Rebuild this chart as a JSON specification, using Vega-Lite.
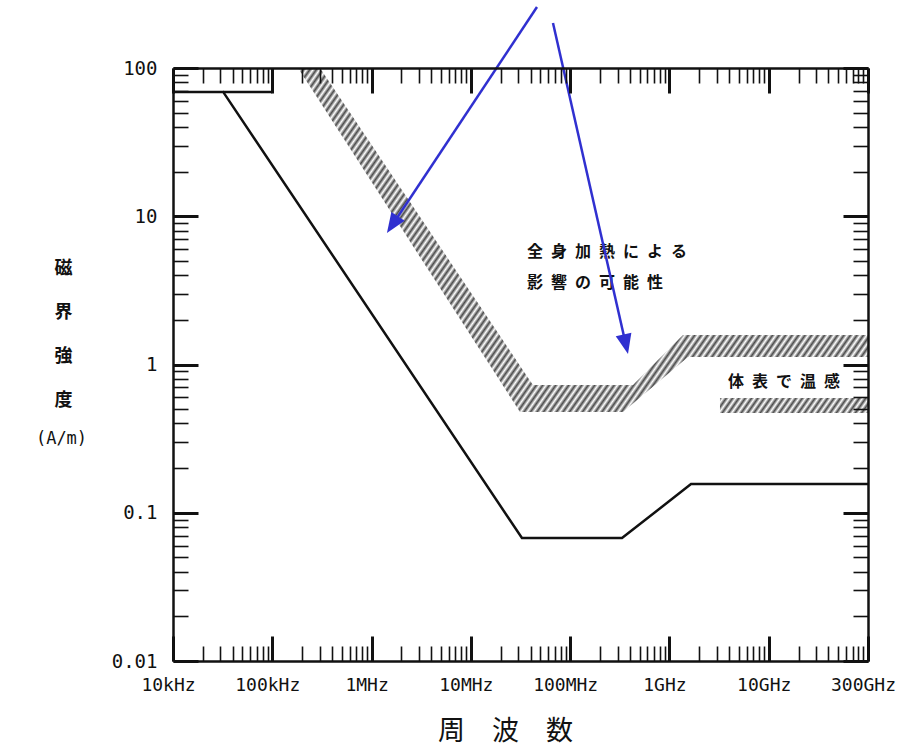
{
"$schema": "https://vega.github.io/schema/vega-lite/v6.json",
"width": 695, "height": 593,
"autosize": {"type": "none"},
"padding": {"left": 173, "top": 68, "right": 48, "bottom": 87},
"background": "#ffffff",
"config": {"view": {"stroke": null}, "axis": {"grid": false, "domainColor": "#111111", "tickColor": "#111111", "labelColor": "#111111", "titleColor": "#111111"}},
"datasets": {
"band1": [
{"f": 181500, "hi": 100, "lo": 100},
{"f": 302400, "hi": 100, "lo": 58.9},
{"f": 31240000, "hi": 0.982, "lo": 0.478},
{"f": 42230000, "hi": 0.727, "lo": 0.478},
{"f": 340600000, "hi": 0.727, "lo": 0.478},
{"f": 429600000, "hi": 0.727, "lo": 0.546},
{"f": 1369000000, "hi": 1.581, "lo": 1.052},
{"f": 1537000000, "hi": 1.581, "lo": 1.124},
{"f": 100000000000, "hi": 1.581, "lo": 1.124}
],
"band2": [
{"f": 3230000000, "hi": 0.594, "lo": 0.471},
{"f": 100000000000, "hi": 0.594, "lo": 0.471}
],
"curve": [
{"series": "limit", "f": 10000, "h": 69},
{"series": "limit", "f": 32000, "h": 69},
{"series": "limit", "f": 32700000, "h": 0.0675},
{"series": "limit", "f": 333000000, "h": 0.0675},
{"series": "limit", "f": 1650000000, "h": 0.156},
{"series": "limit", "f": 100000000000, "h": 0.156},
{"series": "box", "f": 32000, "h": 69},
{"series": "box", "f": 100000, "h": 69}
],
"notes": [
{"f": 36750000, "h": 5.74, "label": "全\u2002身\u2002加\u2002熱\u2002に\u2002よ\u2002る"},
{"f": 36750000, "h": 3.546, "label": "影\u2002響\u2002の\u2002可\u2002能\u2002性"},
{"f": 3888000000, "h": 0.762, "label": "体\u2002表\u2002で\u2002温\u2002感"}
],
"arrows": [
{"id": 1, "f0": 46340000, "h0": 257.9, "f1": 1624000, "h1": 8.77},
{"id": 2, "f0": 67180000, "h0": 201.2, "f1": 363400000, "h1": 1.369}
]
},
"layer": [
{
"data": {"name": "band1"},
"mark": {"type": "area", "stroke": null, "fill": {"gradient": "linear", "x1": 0, "y1": 0, "x2": 1.207, "y2": 0.511, "stops": [
{"offset":0,"color":"#4a4a4a"},{"offset":0.004,"color":"#fff"},{"offset":0.008,"color":"#4a4a4a"},{"offset":0.012,"color":"#fff"},{"offset":0.016,"color":"#4a4a4a"},{"offset":0.02,"color":"#fff"},{"offset":0.024,"color":"#4a4a4a"},{"offset":0.028,"color":"#fff"},{"offset":0.032,"color":"#4a4a4a"},{"offset":0.036,"color":"#fff"},{"offset":0.04,"color":"#4a4a4a"},{"offset":0.044,"color":"#fff"},{"offset":0.048,"color":"#4a4a4a"},{"offset":0.052,"color":"#fff"},{"offset":0.056,"color":"#4a4a4a"},{"offset":0.06,"color":"#fff"},{"offset":0.064,"color":"#4a4a4a"},{"offset":0.068,"color":"#fff"},{"offset":0.072,"color":"#4a4a4a"},{"offset":0.076,"color":"#fff"},{"offset":0.08,"color":"#4a4a4a"},{"offset":0.084,"color":"#fff"},{"offset":0.088,"color":"#4a4a4a"},{"offset":0.092,"color":"#fff"},{"offset":0.096,"color":"#4a4a4a"},{"offset":0.1,"color":"#fff"},{"offset":0.104,"color":"#4a4a4a"},{"offset":0.108,"color":"#fff"},{"offset":0.112,"color":"#4a4a4a"},{"offset":0.116,"color":"#fff"},{"offset":0.12,"color":"#4a4a4a"},{"offset":0.124,"color":"#fff"},{"offset":0.128,"color":"#4a4a4a"},{"offset":0.132,"color":"#fff"},{"offset":0.136,"color":"#4a4a4a"},{"offset":0.14,"color":"#fff"},{"offset":0.144,"color":"#4a4a4a"},{"offset":0.148,"color":"#fff"},{"offset":0.152,"color":"#4a4a4a"},{"offset":0.156,"color":"#fff"},{"offset":0.16,"color":"#4a4a4a"},{"offset":0.164,"color":"#fff"},{"offset":0.168,"color":"#4a4a4a"},{"offset":0.172,"color":"#fff"},{"offset":0.176,"color":"#4a4a4a"},{"offset":0.18,"color":"#fff"},{"offset":0.184,"color":"#4a4a4a"},{"offset":0.188,"color":"#fff"},{"offset":0.192,"color":"#4a4a4a"},{"offset":0.196,"color":"#fff"},
{"offset":0.2,"color":"#4a4a4a"},{"offset":0.204,"color":"#fff"},{"offset":0.208,"color":"#4a4a4a"},{"offset":0.212,"color":"#fff"},{"offset":0.216,"color":"#4a4a4a"},{"offset":0.22,"color":"#fff"},{"offset":0.224,"color":"#4a4a4a"},{"offset":0.228,"color":"#fff"},{"offset":0.232,"color":"#4a4a4a"},{"offset":0.236,"color":"#fff"},{"offset":0.24,"color":"#4a4a4a"},{"offset":0.244,"color":"#fff"},{"offset":0.248,"color":"#4a4a4a"},{"offset":0.252,"color":"#fff"},{"offset":0.256,"color":"#4a4a4a"},{"offset":0.26,"color":"#fff"},{"offset":0.264,"color":"#4a4a4a"},{"offset":0.268,"color":"#fff"},{"offset":0.272,"color":"#4a4a4a"},{"offset":0.276,"color":"#fff"},{"offset":0.28,"color":"#4a4a4a"},{"offset":0.284,"color":"#fff"},{"offset":0.288,"color":"#4a4a4a"},{"offset":0.292,"color":"#fff"},{"offset":0.296,"color":"#4a4a4a"},{"offset":0.3,"color":"#fff"},{"offset":0.304,"color":"#4a4a4a"},{"offset":0.308,"color":"#fff"},{"offset":0.312,"color":"#4a4a4a"},{"offset":0.316,"color":"#fff"},{"offset":0.32,"color":"#4a4a4a"},{"offset":0.324,"color":"#fff"},{"offset":0.328,"color":"#4a4a4a"},{"offset":0.332,"color":"#fff"},{"offset":0.336,"color":"#4a4a4a"},{"offset":0.34,"color":"#fff"},{"offset":0.344,"color":"#4a4a4a"},{"offset":0.348,"color":"#fff"},{"offset":0.352,"color":"#4a4a4a"},{"offset":0.356,"color":"#fff"},{"offset":0.36,"color":"#4a4a4a"},{"offset":0.364,"color":"#fff"},{"offset":0.368,"color":"#4a4a4a"},{"offset":0.372,"color":"#fff"},{"offset":0.376,"color":"#4a4a4a"},{"offset":0.38,"color":"#fff"},{"offset":0.384,"color":"#4a4a4a"},{"offset":0.388,"color":"#fff"},{"offset":0.392,"color":"#4a4a4a"},{"offset":0.396,"color":"#fff"},
{"offset":0.4,"color":"#4a4a4a"},{"offset":0.404,"color":"#fff"},{"offset":0.408,"color":"#4a4a4a"},{"offset":0.412,"color":"#fff"},{"offset":0.416,"color":"#4a4a4a"},{"offset":0.42,"color":"#fff"},{"offset":0.424,"color":"#4a4a4a"},{"offset":0.428,"color":"#fff"},{"offset":0.432,"color":"#4a4a4a"},{"offset":0.436,"color":"#fff"},{"offset":0.44,"color":"#4a4a4a"},{"offset":0.444,"color":"#fff"},{"offset":0.448,"color":"#4a4a4a"},{"offset":0.452,"color":"#fff"},{"offset":0.456,"color":"#4a4a4a"},{"offset":0.46,"color":"#fff"},{"offset":0.464,"color":"#4a4a4a"},{"offset":0.468,"color":"#fff"},{"offset":0.472,"color":"#4a4a4a"},{"offset":0.476,"color":"#fff"},{"offset":0.48,"color":"#4a4a4a"},{"offset":0.484,"color":"#fff"},{"offset":0.488,"color":"#4a4a4a"},{"offset":0.492,"color":"#fff"},{"offset":0.496,"color":"#4a4a4a"},{"offset":0.5,"color":"#fff"},{"offset":0.504,"color":"#4a4a4a"},{"offset":0.508,"color":"#fff"},{"offset":0.512,"color":"#4a4a4a"},{"offset":0.516,"color":"#fff"},{"offset":0.52,"color":"#4a4a4a"},{"offset":0.524,"color":"#fff"},{"offset":0.528,"color":"#4a4a4a"},{"offset":0.532,"color":"#fff"},{"offset":0.536,"color":"#4a4a4a"},{"offset":0.54,"color":"#fff"},{"offset":0.544,"color":"#4a4a4a"},{"offset":0.548,"color":"#fff"},{"offset":0.552,"color":"#4a4a4a"},{"offset":0.556,"color":"#fff"},{"offset":0.56,"color":"#4a4a4a"},{"offset":0.564,"color":"#fff"},{"offset":0.568,"color":"#4a4a4a"},{"offset":0.572,"color":"#fff"},{"offset":0.576,"color":"#4a4a4a"},{"offset":0.58,"color":"#fff"},{"offset":0.584,"color":"#4a4a4a"},{"offset":0.588,"color":"#fff"},{"offset":0.592,"color":"#4a4a4a"},{"offset":0.596,"color":"#fff"},
{"offset":0.6,"color":"#4a4a4a"},{"offset":0.604,"color":"#fff"},{"offset":0.608,"color":"#4a4a4a"},{"offset":0.612,"color":"#fff"},{"offset":0.616,"color":"#4a4a4a"},{"offset":0.62,"color":"#fff"},{"offset":0.624,"color":"#4a4a4a"},{"offset":0.628,"color":"#fff"},{"offset":0.632,"color":"#4a4a4a"},{"offset":0.636,"color":"#fff"},{"offset":0.64,"color":"#4a4a4a"},{"offset":0.644,"color":"#fff"},{"offset":0.648,"color":"#4a4a4a"},{"offset":0.652,"color":"#fff"},{"offset":0.656,"color":"#4a4a4a"},{"offset":0.66,"color":"#fff"},{"offset":0.664,"color":"#4a4a4a"},{"offset":0.668,"color":"#fff"},{"offset":0.672,"color":"#4a4a4a"},{"offset":0.676,"color":"#fff"},{"offset":0.68,"color":"#4a4a4a"},{"offset":0.684,"color":"#fff"},{"offset":0.688,"color":"#4a4a4a"},{"offset":0.692,"color":"#fff"},{"offset":0.696,"color":"#4a4a4a"},{"offset":0.7,"color":"#fff"},{"offset":0.704,"color":"#4a4a4a"},{"offset":0.708,"color":"#fff"},{"offset":0.712,"color":"#4a4a4a"},{"offset":0.716,"color":"#fff"},{"offset":0.72,"color":"#4a4a4a"},{"offset":0.724,"color":"#fff"},{"offset":0.728,"color":"#4a4a4a"},{"offset":0.732,"color":"#fff"},{"offset":0.736,"color":"#4a4a4a"},{"offset":0.74,"color":"#fff"},{"offset":0.744,"color":"#4a4a4a"},{"offset":0.748,"color":"#fff"},{"offset":0.752,"color":"#4a4a4a"},{"offset":0.756,"color":"#fff"},{"offset":0.76,"color":"#4a4a4a"},{"offset":0.764,"color":"#fff"},{"offset":0.768,"color":"#4a4a4a"},{"offset":0.772,"color":"#fff"},{"offset":0.776,"color":"#4a4a4a"},{"offset":0.78,"color":"#fff"},{"offset":0.784,"color":"#4a4a4a"},{"offset":0.788,"color":"#fff"},{"offset":0.792,"color":"#4a4a4a"},{"offset":0.796,"color":"#fff"},
{"offset":0.8,"color":"#4a4a4a"},{"offset":0.804,"color":"#fff"},{"offset":0.808,"color":"#4a4a4a"},{"offset":0.812,"color":"#fff"},{"offset":0.816,"color":"#4a4a4a"},{"offset":0.82,"color":"#fff"},{"offset":0.824,"color":"#4a4a4a"},{"offset":0.828,"color":"#fff"},{"offset":0.832,"color":"#4a4a4a"},{"offset":0.836,"color":"#fff"},{"offset":0.84,"color":"#4a4a4a"},{"offset":0.844,"color":"#fff"},{"offset":0.848,"color":"#4a4a4a"},{"offset":0.852,"color":"#fff"},{"offset":0.856,"color":"#4a4a4a"},{"offset":0.86,"color":"#fff"},{"offset":0.864,"color":"#4a4a4a"},{"offset":0.868,"color":"#fff"},{"offset":0.872,"color":"#4a4a4a"},{"offset":0.876,"color":"#fff"},{"offset":0.88,"color":"#4a4a4a"},{"offset":0.884,"color":"#fff"},{"offset":0.888,"color":"#4a4a4a"},{"offset":0.892,"color":"#fff"},{"offset":0.896,"color":"#4a4a4a"},{"offset":0.9,"color":"#fff"},{"offset":0.904,"color":"#4a4a4a"},{"offset":0.908,"color":"#fff"},{"offset":0.912,"color":"#4a4a4a"},{"offset":0.916,"color":"#fff"},{"offset":0.92,"color":"#4a4a4a"},{"offset":0.924,"color":"#fff"},{"offset":0.928,"color":"#4a4a4a"},{"offset":0.932,"color":"#fff"},{"offset":0.936,"color":"#4a4a4a"},{"offset":0.94,"color":"#fff"},{"offset":0.944,"color":"#4a4a4a"},{"offset":0.948,"color":"#fff"},{"offset":0.952,"color":"#4a4a4a"},{"offset":0.956,"color":"#fff"},{"offset":0.96,"color":"#4a4a4a"},{"offset":0.964,"color":"#fff"},{"offset":0.968,"color":"#4a4a4a"},{"offset":0.972,"color":"#fff"},{"offset":0.976,"color":"#4a4a4a"},{"offset":0.98,"color":"#fff"},{"offset":0.984,"color":"#4a4a4a"},{"offset":0.988,"color":"#fff"},{"offset":0.992,"color":"#4a4a4a"},{"offset":0.996,"color":"#fff"},{"offset":1,"color":"#4a4a4a"}
]}},
"encoding": {
"x": {"field": "f", "type": "quantitative", "scale": {"type": "log", "domain": [10000, 100000000000], "nice": false},
 "axis": {"orient": "bottom", "values": [10000, 100000, 1000000, 10000000, 100000000, 1000000000, 10000000000, 100000000000], "ticks": false, "domain": false, "labelExpr": "['10kHz','100kHz','1MHz','10MHz','100MHz','1GHz','10GHz','300GHz'][round(log(datum.value)/LN10)-4]", "labelFont": "DejaVu Sans Mono", "labelFontSize": 18, "labelPadding": 15, "labelOffset": -5, "labelFlush": false, "labelOverlap": false, "labelBound": false, "title": "周\u3000波\u3000数", "titleFont": "Noto Sans CJK JP", "titleFontSize": 27, "titleFontWeight": "normal", "titleX": 332, "titleY": 70, "titleAlign": "center", "titleBaseline": "middle"}},
"y": {"field": "hi", "type": "quantitative", "scale": {"type": "log", "domain": [0.01, 100], "nice": false},
 "axis": {"orient": "left", "values": [0.01, 0.1, 1, 10, 100], "ticks": false, "domain": false, "labelExpr": "['0.01','0.1','1','10','100'][round(log(datum.value)/LN10)+2]", "labelFont": "DejaVu Sans Mono", "labelFontSize": 19, "labelPadding": 16, "labelFlush": false, "labelOverlap": false, "labelBaseline": "middle", "title": ["磁", "界", "強", "度"], "titleFont": "Noto Sans CJK JP", "titleFontSize": 18, "titleFontWeight": "bold", "titleAngle": 0, "titleAlign": "center", "titleBaseline": "top", "titleX": -110, "titleY": 191, "titleLineHeight": 44}},
"y2": {"field": "lo"}
}
},
{
"data": {"name": "band2"},
"mark": {"type": "area", "stroke": null, "fill": {"gradient": "linear", "x1": 0, "y1": 0, "x2": 1.0656, "y2": 0.0757, "stops": [
{"offset":0,"color":"#4a4a4a"},{"offset":0.02,"color":"#fff"},{"offset":0.04,"color":"#4a4a4a"},{"offset":0.06,"color":"#fff"},{"offset":0.08,"color":"#4a4a4a"},{"offset":0.1,"color":"#fff"},{"offset":0.12,"color":"#4a4a4a"},{"offset":0.14,"color":"#fff"},{"offset":0.16,"color":"#4a4a4a"},{"offset":0.18,"color":"#fff"},{"offset":0.2,"color":"#4a4a4a"},{"offset":0.22,"color":"#fff"},{"offset":0.24,"color":"#4a4a4a"},{"offset":0.26,"color":"#fff"},{"offset":0.28,"color":"#4a4a4a"},{"offset":0.3,"color":"#fff"},{"offset":0.32,"color":"#4a4a4a"},{"offset":0.34,"color":"#fff"},{"offset":0.36,"color":"#4a4a4a"},{"offset":0.38,"color":"#fff"},{"offset":0.4,"color":"#4a4a4a"},{"offset":0.42,"color":"#fff"},{"offset":0.44,"color":"#4a4a4a"},{"offset":0.46,"color":"#fff"},{"offset":0.48,"color":"#4a4a4a"},{"offset":0.5,"color":"#fff"},{"offset":0.52,"color":"#4a4a4a"},{"offset":0.54,"color":"#fff"},{"offset":0.56,"color":"#4a4a4a"},{"offset":0.58,"color":"#fff"},{"offset":0.6,"color":"#4a4a4a"},{"offset":0.62,"color":"#fff"},{"offset":0.64,"color":"#4a4a4a"},{"offset":0.66,"color":"#fff"},{"offset":0.68,"color":"#4a4a4a"},{"offset":0.7,"color":"#fff"},{"offset":0.72,"color":"#4a4a4a"},{"offset":0.74,"color":"#fff"},{"offset":0.76,"color":"#4a4a4a"},{"offset":0.78,"color":"#fff"},{"offset":0.8,"color":"#4a4a4a"},{"offset":0.82,"color":"#fff"},{"offset":0.84,"color":"#4a4a4a"},{"offset":0.86,"color":"#fff"},{"offset":0.88,"color":"#4a4a4a"},{"offset":0.9,"color":"#fff"},{"offset":0.92,"color":"#4a4a4a"},{"offset":0.94,"color":"#fff"},{"offset":0.96,"color":"#4a4a4a"},{"offset":0.98,"color":"#fff"},{"offset":1,"color":"#4a4a4a"}
]}},
"encoding": {
"x": {"field": "f", "type": "quantitative",
 "axis": {"orient": "bottom", "labels": false, "title": null, "domain": true, "domainWidth": 2.5, "zindex": 1,
  "values": [1e4,2e4,3e4,4e4,5e4,6e4,7e4,8e4,9e4,1e5,2e5,3e5,4e5,5e5,6e5,7e5,8e5,9e5,1e6,2e6,3e6,4e6,5e6,6e6,7e6,8e6,9e6,1e7,2e7,3e7,4e7,5e7,6e7,7e7,8e7,9e7,1e8,2e8,3e8,4e8,5e8,6e8,7e8,8e8,9e8,1e9,2e9,3e9,4e9,5e9,6e9,7e9,8e9,9e9,1e10,2e10,3e10,4e10,5e10,6e10,7e10,8e10,9e10,1e11],
  "tickSize": {"condition": {"test": "abs(log(datum.value)/LN10-round(log(datum.value)/LN10))<0.01", "value": -25}, "value": -15},
  "tickWidth": {"condition": {"test": "abs(log(datum.value)/LN10-round(log(datum.value)/LN10))<0.01", "value": 3}, "value": 1.6}}},
"y": {"field": "hi", "type": "quantitative",
 "axis": {"orient": "left", "labels": false, "title": null, "domain": true, "domainWidth": 2.5, "zindex": 1,
  "values": [0.01,0.02,0.03,0.04,0.05,0.06,0.07,0.08,0.09,0.1,0.2,0.3,0.4,0.5,0.6,0.7,0.8,0.9,1,2,3,4,5,6,7,8,9,10,20,30,40,50,60,70,80,90,100],
  "tickSize": {"condition": {"test": "abs(log(datum.value)/LN10-round(log(datum.value)/LN10))<0.01", "value": -25}, "value": -15},
  "tickWidth": {"condition": {"test": "abs(log(datum.value)/LN10-round(log(datum.value)/LN10))<0.01", "value": 3}, "value": 1.6}}},
"y2": {"field": "lo"}
}
},
{
"data": {"name": "curve"},
"mark": {"type": "line", "color": "#111111", "strokeWidth": 2.5},
"encoding": {
"x": {"field": "f", "type": "quantitative",
 "axis": {"orient": "top", "labels": false, "title": null, "domain": true, "domainWidth": 2.5, "zindex": 1,
  "values": [1e4,2e4,3e4,4e4,5e4,6e4,7e4,8e4,9e4,1e5,2e5,3e5,4e5,5e5,6e5,7e5,8e5,9e5,1e6,2e6,3e6,4e6,5e6,6e6,7e6,8e6,9e6,1e7,2e7,3e7,4e7,5e7,6e7,7e7,8e7,9e7,1e8,2e8,3e8,4e8,5e8,6e8,7e8,8e8,9e8,1e9,2e9,3e9,4e9,5e9,6e9,7e9,8e9,9e9,1e10,2e10,3e10,4e10,5e10,6e10,7e10,8e10,9e10,1e11],
  "tickSize": {"condition": {"test": "abs(log(datum.value)/LN10-round(log(datum.value)/LN10))<0.01", "value": -25}, "value": -15},
  "tickWidth": {"condition": {"test": "abs(log(datum.value)/LN10-round(log(datum.value)/LN10))<0.01", "value": 3}, "value": 1.6}}},
"y": {"field": "h", "type": "quantitative",
 "axis": {"orient": "right", "labels": false, "domain": true, "domainWidth": 2.5, "zindex": 1,
  "values": [0.01,0.02,0.03,0.04,0.05,0.06,0.07,0.08,0.09,0.1,0.2,0.3,0.4,0.5,0.6,0.7,0.8,0.9,1,2,3,4,5,6,7,8,9,10,20,30,40,50,60,70,80,90,100],
  "tickSize": {"condition": {"test": "abs(log(datum.value)/LN10-round(log(datum.value)/LN10))<0.01", "value": -25}, "value": -15},
  "tickWidth": {"condition": {"test": "abs(log(datum.value)/LN10-round(log(datum.value)/LN10))<0.01", "value": 3}, "value": 1.6},
  "title": "(A/m)", "titleFont": "DejaVu Sans Mono", "titleFontSize": 17, "titleFontWeight": "normal", "titleAngle": 0, "titleAlign": "center", "titleBaseline": "middle", "titleX": -807, "titleY": 370}},
"detail": {"field": "series", "type": "nominal"}
}
},
{
"data": {"name": "notes"},
"mark": {"type": "text", "align": "left", "baseline": "middle", "font": "Noto Sans CJK JP", "fontSize": 16, "fontWeight": "bold", "color": "#111111"},
"encoding": {
"x": {"field": "f", "type": "quantitative", "axis": null},
"y": {"field": "h", "type": "quantitative", "axis": null},
"text": {"field": "label", "type": "nominal"}
}
},
{
"data": {"name": "arrows"},
"mark": {"type": "rule", "color": "#3030d0", "strokeWidth": 2.5, "clip": false},
"encoding": {
"x": {"field": "f0", "type": "quantitative", "axis": null},
"y": {"field": "h0", "type": "quantitative", "axis": null},
"x2": {"field": "f1"},
"y2": {"field": "h1"}
}
},
{
"data": {"name": "arrows"},
"transform": [{"filter": "datum.id == 1"}],
"mark": {"type": "point", "shape": "M0,-1L0.8,1L-0.8,1Z", "size": 400, "filled": true, "color": "#3030d0", "opacity": 1, "angle": 213.6, "clip": false},
"encoding": {
"x": {"field": "f1", "type": "quantitative", "axis": null},
"y": {"field": "h1", "type": "quantitative", "axis": null}
}
},
{
"data": {"name": "arrows"},
"transform": [{"filter": "datum.id == 2"}],
"mark": {"type": "point", "shape": "M0,-1L0.8,1L-0.8,1Z", "size": 400, "filled": true, "color": "#3030d0", "opacity": 1, "angle": 167.2, "clip": false},
"encoding": {
"x": {"field": "f1", "type": "quantitative", "axis": null},
"y": {"field": "h1", "type": "quantitative", "axis": null}
}
}
],
"resolve": {"axis": {"x": "independent", "y": "independent"}}
}
